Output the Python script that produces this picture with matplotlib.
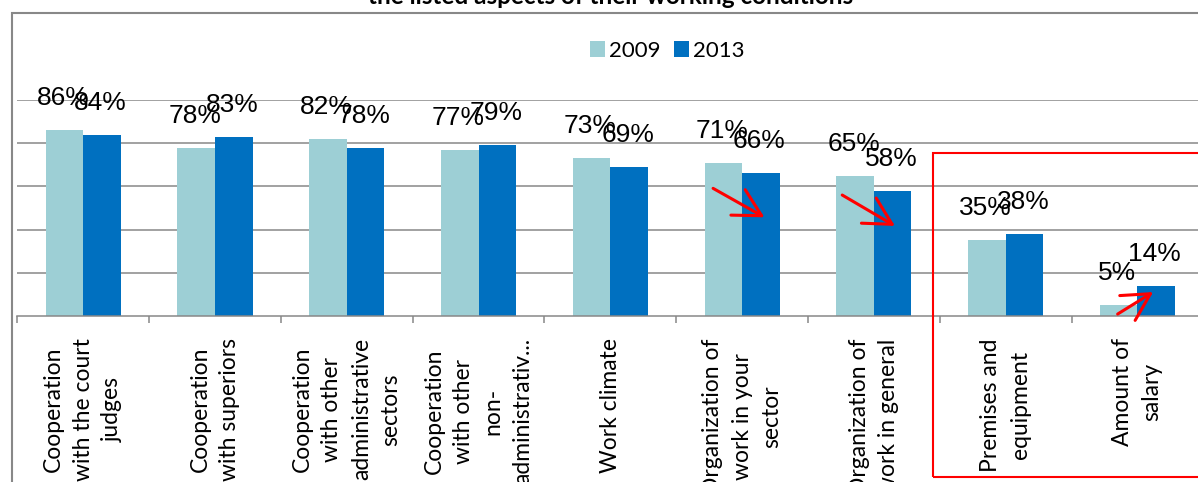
import matplotlib.pyplot as plt
import numpy as np
from matplotlib.patches import Rectangle, FancyArrowPatch

# data
categories = [
    "Cooperation\nwith the court\njudges",
    "Cooperation\nwith superiors",
    "Cooperation\nwith other\nadministrative\nsectors",
    "Cooperation\nwith other\nnon-\nadministrativ...",
    "Work climate",
    "Organization of\nwork in your\nsector",
    "Organization of\nwork in general",
    "Premises and\nequipment",
    "Amount of\nsalary",
]
vals_2009 = [86, 78, 82, 77, 73, 71, 65, 35, 5]
vals_2013 = [84, 83, 78, 79, 69, 66, 58, 38, 14]
series_names = ["2009", "2013"]
title = "the listed aspects of their working conditions"

c_light = "#9dcfd5"
c_dark = "#0070c0"
grid_c = "#878787"

W, H = 1198, 482
fig = plt.figure(figsize=(W / 100, H / 100), dpi=100)


def fx(px):
    return px / W


def fy(py):
    return 1 - py / H


# axes placed to match the plot area of the screenshot
ax_w = 1186 / W
ax = fig.add_axes([fx(17.3), fy(316), ax_w, 216 / H])
x = np.arange(len(categories))
width = 0.285

ax.bar(x - width / 2, vals_2009, width, color=c_light, label=series_names[0], zorder=3)
ax.bar(x + width / 2, vals_2013, width, color=c_dark, label=series_names[1], zorder=3)

for xs, vs in [(x - width / 2, vals_2009), (x + width / 2, vals_2013)]:
    for xi, v in zip(xs, vs):
        ax.annotate(f"{v}%", (xi, v), xytext=(-1, 18), textcoords="offset points",
                    ha="center", va="baseline", fontsize=19,
                    family="Liberation Sans", color="black", zorder=5)

ax.set_xlim(-0.5, len(categories) - 0.5)
ax.set_ylim(0, 100)
ax.set_yticks([20, 40, 60, 80, 100])
ax.yaxis.grid(True, color=grid_c, linewidth=1.1, zorder=0)
ax.tick_params(axis="y", left=False, labelleft=False)
for s in ["top", "right", "left"]:
    ax.spines[s].set_visible(False)
ax.spines["bottom"].set_color(grid_c)
ax.spines["bottom"].set_linewidth(1.1)
ax.spines["bottom"].set_zorder(4)

ax.set_xticks(x)
ax.set_xticklabels(categories, rotation=90, fontsize=16.5, family="Lato",
                   multialignment="center", linespacing=1.5)
ax.set_xticks(np.arange(len(categories) + 1) - 0.5, minor=True)
ax.tick_params(axis="x", which="major", length=0, pad=16)
ax.tick_params(axis="x", which="minor", length=5, width=1.1, color=grid_c)

ax.legend(loc="upper left", bbox_to_anchor=((fx(581) - fx(17.3)) / ax_w, 1.315),
          ncol=2, frameon=False, prop={"family": "Lato", "size": 16},
          handlelength=0.7, handleheight=0.7, handletextpad=0.15,
          columnspacing=0.6, borderaxespad=0)

# chart area border (partly cropped)
fig.add_artist(Rectangle((fx(11.5), fy(600)), 2, fy(13.3) - fy(600),
                         transform=fig.transFigure, fill=False,
                         edgecolor="#888888", linewidth=1.5))

# title, cut off at the top of the screenshot
fig.text(fx(611), fy(4), title, ha="center", va="baseline",
         fontsize=17.5, fontweight="bold", family="Lato")

# red highlight box
fig.add_artist(Rectangle((fx(933.3), fy(477)), 2, fy(152.7) - fy(477),
                         transform=fig.transFigure, fill=False,
                         edgecolor="red", linewidth=1.5, zorder=6))

# red arrows
arrows = [((4.78, 59.1), (5.17, 45.7)),
          ((5.76, 56.0), (6.16, 41.7)),
          ((7.85, 0.9), (8.12, 11.1))]
for start, end in arrows:
    ax.add_patch(FancyArrowPatch(start, end,
                                 arrowstyle="->,head_length=1.3,head_width=0.7",
                                 mutation_scale=15, color="red", linewidth=2.2,
                                 shrinkA=0, shrinkB=0, zorder=6, clip_on=False))

fig.savefig("out.png", dpi=100)
